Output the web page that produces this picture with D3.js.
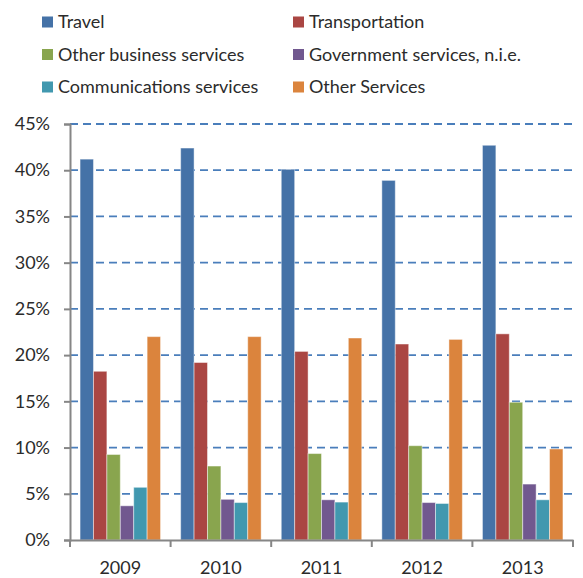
<!DOCTYPE html>
<html>
<head>
<meta charset="utf-8">
<script src="https://cdn.jsdelivr.net/npm/d3@7"></script>
<style>
  body { margin: 0; background: #fff; }
  text { font-family: Lato, "Open Sans", sans-serif; fill: #2b2b2b; }
</style>
</head>
<body>
<svg id="chart"></svg>
<script>
const years = ['2009', '2010', '2011', '2012', '2013'];
const seriesNames = ['Travel', 'Transportation', 'Other business services',
  'Government services, n.i.e.', 'Communications services', 'Other Services'];
const seriesColors = ['#4572a7', '#aa4643', '#89a54e', '#71588f', '#4198af', '#db843d'];
const travel = [41.2, 42.4, 40.1, 38.9, 42.7];
const transportation = [18.25, 19.2, 20.4, 21.2, 22.3];
const otherBusiness = [9.25, 8.0, 9.35, 10.2, 14.9];
const government = [3.7, 4.4, 4.35, 4.05, 6.05];
const communications = [5.7, 4.05, 4.1, 3.95, 4.35];
const otherServices = [22.0, 22.0, 21.85, 21.7, 9.85];
const yTicks = [0, 5, 10, 15, 20, 25, 30, 35, 40, 45];

const seriesValues = [travel, transportation, otherBusiness, government, communications, otherServices];

const width = 583;
const height = 578;
const margin = { top: 124, right: 10, bottom: 38, left: 70 };
const innerW = width - margin.left - margin.right;
const innerH = height - margin.top - margin.bottom;

const svg = d3.select('#chart')
  .attr('width', width)
  .attr('height', height);

const chart = svg.append('g')
  .attr('transform', `translate(${margin.left},${margin.top})`);

const x0 = d3.scaleBand()
  .domain(years)
  .range([0, innerW])
  .paddingInner(0.2)
  .paddingOuter(0.1);

const x1 = d3.scaleBand()
  .domain(d3.range(seriesNames.length))
  .range([0, x0.bandwidth()]);

const y = d3.scaleLinear()
  .domain([0, 45])
  .range([innerH, 0]);

// dashed gridlines
chart.append('g')
  .selectAll('line')
  .data(yTicks.filter((t) => t > 0))
  .join('line')
  .attr('x1', 0)
  .attr('x2', innerW)
  .attr('y1', (d) => y(d))
  .attr('y2', (d) => y(d))
  .attr('stroke', '#4a7ebb')
  .attr('stroke-width', 1.8)
  .attr('stroke-dasharray', '8,5');

// bars
const groups = chart.append('g')
  .selectAll('g')
  .data(years)
  .join('g')
  .attr('transform', (d) => `translate(${x0(d)},0)`);

groups.selectAll('rect')
  .data((d, i) => seriesValues.map((vals, s) => ({ s, v: vals[i] })))
  .join('rect')
  .attr('x', (d) => x1(d.s))
  .attr('width', x1.bandwidth())
  .attr('y', (d) => y(d.v))
  .attr('height', (d) => innerH - y(d.v))
  .attr('fill', (d) => seriesColors[d.s])
  .attr('stroke', 'rgba(255,255,255,0.45)')
  .attr('stroke-width', 1);

// y axis
const yAxis = chart.append('g')
  .call(d3.axisLeft(y)
    .tickValues(yTicks)
    .tickSize(6)
    .tickPadding(14)
    .tickFormat((d) => `${d}%`));
yAxis.select('.domain').attr('stroke', '#868686').attr('stroke-width', 2);
yAxis.selectAll('.tick line').attr('stroke', '#868686').attr('stroke-width', 2);
yAxis.selectAll('text').style('font-size', '18px').attr('fill', '#2b2b2b');

// x axis
const xAxis = chart.append('g')
  .attr('transform', `translate(0,${innerH})`)
  .call(d3.axisBottom(x0).tickSize(0).tickPadding(21));
xAxis.select('.domain').attr('stroke', '#868686').attr('stroke-width', 2);
xAxis.selectAll('text').style('font-size', '18px').attr('fill', '#2b2b2b');

// category boundary ticks
const step = innerW / years.length;
chart.append('g')
  .selectAll('line')
  .data(d3.range(years.length + 1))
  .join('line')
  .attr('x1', (d) => d * step)
  .attr('x2', (d) => d * step)
  .attr('y1', innerH)
  .attr('y2', innerH + 7)
  .attr('stroke', '#868686')
  .attr('stroke-width', 2);

// legend
const legend = svg.append('g');
const legendItems = legend.selectAll('g')
  .data(seriesNames)
  .join('g')
  .attr('transform', (d, i) => `translate(${i % 2 === 0 ? 42 : 293},${22 + Math.floor(i / 2) * 32.5})`);

legendItems.append('rect')
  .attr('x', 0)
  .attr('y', -5.5)
  .attr('width', 11)
  .attr('height', 11)
  .attr('fill', (d, i) => seriesColors[i]);

legendItems.append('text')
  .attr('x', 16)
  .attr('dy', '0.35em')
  .style('font-size', '18px')
  .text((d) => d);
</script>
</body>
</html>
